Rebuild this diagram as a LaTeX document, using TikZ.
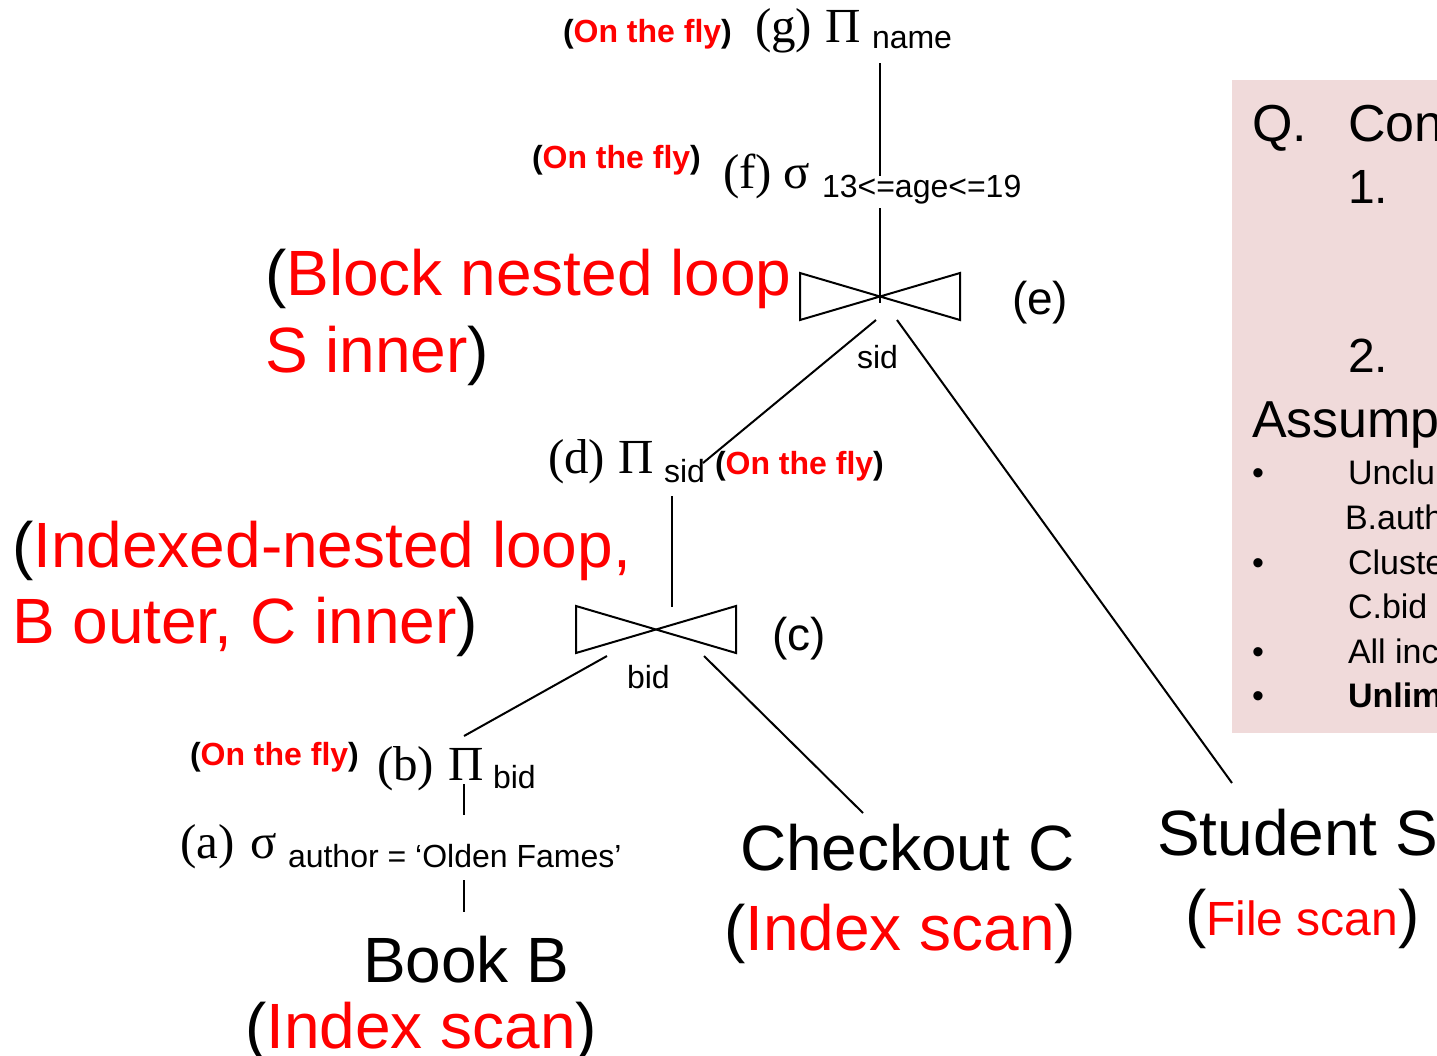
\documentclass[tikz,border=0pt]{standalone}
\usepackage{fontspec}
\setmainfont{Liberation Sans}
\newfontfamily\tms{Liberation Serif}
\definecolor{panelpink}{RGB}{240,218,218}
\newcommand\rd[1]{\textcolor{red}{#1}}
\begin{document}
\begin{tikzpicture}[x=0.5pt,y=-0.5pt,
  lbl/.style={inner sep=0pt,outer sep=0pt,anchor=base west},
  ser/.style={lbl,font=\tms\fontsize{24.5}{24.5}\selectfont},
  sanslbl/.style={lbl,font=\fontsize{23}{23}\selectfont},
  subs/.style={lbl,font=\fontsize{16}{16}\selectfont},
  fly/.style={lbl,font=\bfseries\fontsize{16}{16}\selectfont},
  big/.style={lbl,font=\fontsize{32}{32}\selectfont},
  qbig/.style={lbl,font=\fontsize{26}{26}\selectfont},
  qnum/.style={lbl,font=\fontsize{24}{24}\selectfont},
  qsmall/.style={lbl,font=\fontsize{17}{17}\selectfont},
  edge/.style={draw=black,line width=1pt},
  bowtie/.pic={\draw[edge] (-80,-23.5) -- (80,23.5) -- (80,-23.5) -- (-80,23.5) -- cycle;}
]
\useasboundingbox (0,0) rectangle (1437,1056);
\clip (0,0) rectangle (1437,1056);

% right panel
\fill[panelpink] (1232,80) rectangle (1445,733);
\node[qbig] (qQ) at (1252,141) {Q.};
\node[qbig] (qCon) at (1348,141) {Con};
\node[qnum] (qOne) at (1348,203) {1.};
\node[qnum] (qTwo) at (1348,372) {2.};
\node[qbig] (qAss) at (1252,437) {Assump};
\node[qsmall] (bu1) at (1252,484) {•};
\node[qsmall] (t1) at (1348,484) {Unclu};
\node[qsmall] (t1b) at (1345,529) {B.auth};
\node[qsmall] (bu2) at (1252,574) {•};
\node[qsmall] (t2) at (1348,574) {Cluste};
\node[qsmall] (t2b) at (1348,618) {C.bid};
\node[qsmall] (bu3) at (1252,663) {•};
\node[qsmall] (t3) at (1348,663) {All inc};
\node[qsmall] (bu4) at (1252,707) {•};
\node[qsmall,font=\bfseries\fontsize{17}{17}\selectfont] (t4) at (1348,707) {Unlim};

% (g)
\node[fly] (otfG) at (563,42) {(\rd{On the fly})};
\node[ser] (gLbl) at (755,42) {(g)};
\node[ser] (gPi) at (825,42) {Π};
\node[subs] (gSub) at (872,48) {name};

% (f)
\node[fly] (otfF) at (532,168) {(\rd{On the fly})};
\node[ser] (fLbl) at (723,188) {(f)};
\node[ser] (fSig) at (783,188) {σ};
\node[subs] (fSub) at (822,197) {13<=age<=19};

% (e)
\pic at (880,296.5) {bowtie};
\node[sanslbl] (eLbl) at (1012,314) {(e)};
\node[subs] (eSub) at (857,368) {sid};
\node[big] (eAlg1) at (265,295) {(\rd{Block nested loop}};
\node[big] (eAlg2) at (265,372) {\rd{S inner})};

% (d)
\node[ser] (dLbl) at (548,473) {(d)};
\node[ser] (dPi) at (618,473) {Π};
\node[subs] (dSub) at (664,482) {sid};
\node[fly] (otfD) at (715,474) {(\rd{On the fly})};

% (c)
\pic at (656,629.5) {bowtie};
\node[sanslbl] (cLbl) at (772,650) {(c)};
\node[subs] (cSub) at (627,688) {bid};
\node[big] (cAlg1) at (12,567) {(\rd{Indexed-nested loop,}};
\node[big] (cAlg2) at (12,643) {\rd{B outer, C inner})};

% (b)
\node[fly] (otfB) at (190,765) {(\rd{On the fly})};
\node[ser] (bLbl) at (377,780) {(b)};
\node[ser] (bPi) at (448,780) {Π};
\node[subs] (bSub) at (493,788) {bid};

% (a)
\node[ser] (aLbl) at (180,858) {(a)};
\node[ser] (aSig) at (250,858) {σ};
\node[subs] (aSub) at (288,867) {author = ‘Olden Fames’};

% relations
\node[big] (book) at (363,982) {Book B};
\node[big] (bookScan) at (245,1048) {(\rd{Index scan})};
\node[big] (chk) at (740,870) {Checkout C};
\node[big] (chkScan) at (724,950) {(\rd{Index scan})};
\node[big] (stu) at (1157,855) {Student S};
\node[big] (stuScan) at (1185,935) {(\rd{\fontsize{24}{24}\selectfont File scan})};

% connector end points
\coordinate (gBot) at (880,63);
\coordinate (fTop) at (880,176);
\coordinate (fBot) at (880,208);
\coordinate (eTop) at (880,303);
\coordinate (eBL) at (876,320);
\coordinate (eBR) at (897,320);
\coordinate (dTop) at (703,463);
\coordinate (sTop) at (1232,783);
\coordinate (dBot) at (672,496);
\coordinate (cTop) at (672,607);
\coordinate (cBL) at (607,656);
\coordinate (cBR) at (704,656);
\coordinate (bTop) at (464,736);
\coordinate (chkTop) at (863,813);
\coordinate (bBot) at (464,784);
\coordinate (aTop) at (464,815);
\coordinate (aBot) at (464,880);
\coordinate (bookTop) at (464,912);

\draw[edge] (gBot) -- (fTop);
\draw[edge] (fBot) -- (eTop);
\draw[edge] (eBL) -- (dTop);
\draw[edge] (eBR) -- (sTop);
\draw[edge] (dBot) -- (cTop);
\draw[edge] (cBL) -- (bTop);
\draw[edge] (cBR) -- (chkTop);
\draw[edge] (bBot) -- (aTop);
\draw[edge] (aBot) -- (bookTop);
\end{tikzpicture}
\end{document}
